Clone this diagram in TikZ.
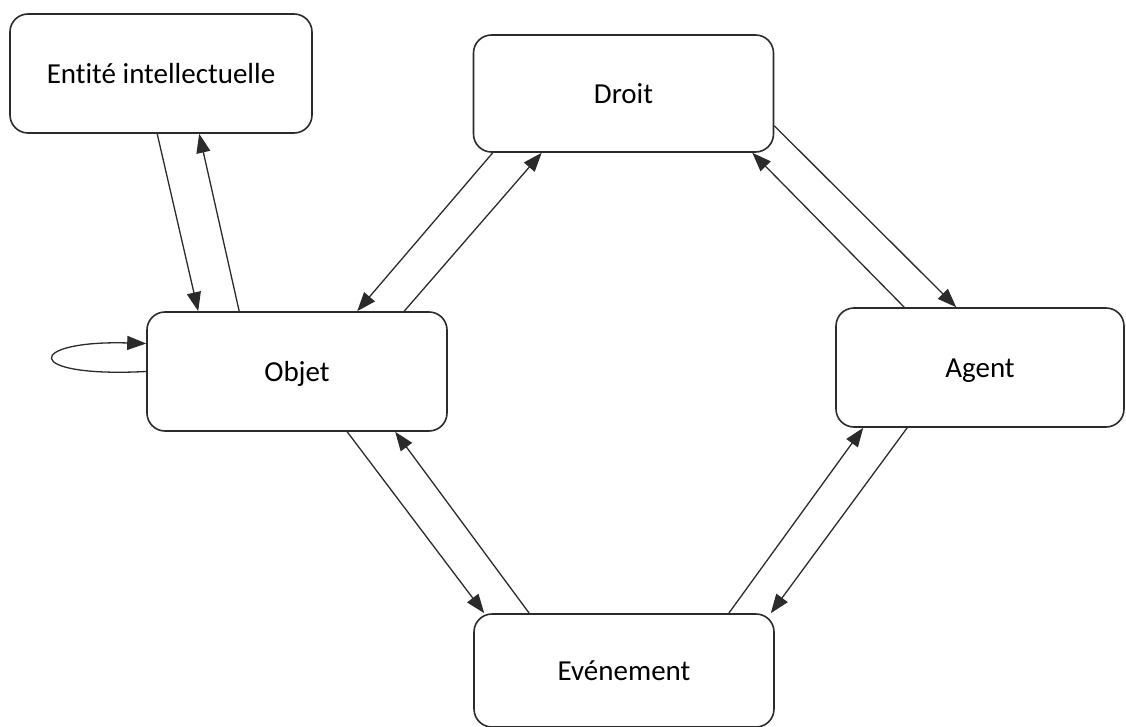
\documentclass[tikz,border=0pt]{standalone}
\usepackage{fontspec}
\setmainfont{Carlito}[Ligatures=NoCommon]
\usepackage{xcolor}
\usepackage{tikz}
\usetikzlibrary{arrows.meta,positioning,calc}
\definecolor{LineGray}{HTML}{2B2B2B}

\begin{document}
\begin{tikzpicture}[x=1pt,y=-1pt,
  box/.style={draw=LineGray,line width=1.6pt,rounded corners=18pt,minimum width=300pt,minimum height=119pt,
    text height=20pt,text depth=0pt,font=\fontsize{29}{35}\selectfont},
  link/.style={-{Triangle[length=19pt,width=14pt]},line width=1.3pt,LineGray}
]
\useasboundingbox (0,0) rectangle (1126,727);
\node[box,minimum width=302pt] (ent) at (161,73.5) {Entité intellectuelle};
\node[box,minimum height=117pt] (droit) at (623.5,93.5) {Droit};
\node[box] (obj) at (297,371.5) {Objet};
\node[box,minimum width=288pt] (agent) at (980,367.5) {Agent};
\node[box,minimum height=113pt] (evt) at (624,670.5) {Evénement};
% Entite <-> Objet
\draw[link] ([xshift=148pt]ent.south west) -- ([xshift=52pt]obj.north west);
\draw[link] ([xshift=93pt]obj.north west) -- ([xshift=190pt]ent.south west);
% Droit <-> Objet
\draw[link] ([xshift=20pt]droit.south west) -- ([xshift=211pt]obj.north west);
\draw[link] ([xshift=258pt]obj.north west) -- ([xshift=69pt]droit.south west);
% Droit <-> Agent
\draw[link] ([yshift=27pt]droit.south east) -- ([xshift=121pt]agent.north west);
\draw[link] ([xshift=69pt]agent.north west) -- ([xshift=-22pt]droit.south east);
% Objet <-> Evenement
\draw[link] ([xshift=201pt]obj.south west) -- ([xshift=11pt]evt.north west);
\draw[link] ([xshift=56pt]evt.north west) -- ([xshift=249pt]obj.south west);
% Agent <-> Evenement
\draw[link] ([xshift=72pt]agent.south west) -- ([xshift=-4pt]evt.north east);
\draw[link] ([xshift=-46pt]evt.north east) -- ([xshift=28pt]agent.south west);
% boucle sur Objet
\draw[link] (obj.west) .. controls (20,378) and (26,340) .. ([yshift=28pt]obj.west);
\end{tikzpicture}
\end{document}
